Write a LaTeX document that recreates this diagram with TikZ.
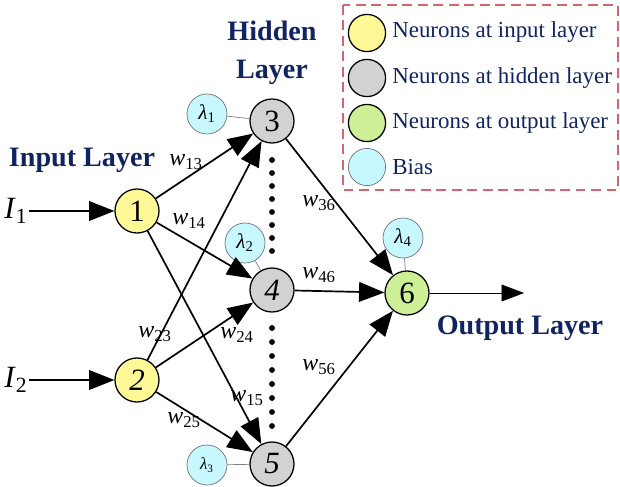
\documentclass[tikz,border=0pt]{standalone}
\usepackage{fontspec}
\setmainfont{Liberation Serif}
\usetikzlibrary{arrows.meta}
\definecolor{navy}{RGB}{16,36,96}
\definecolor{inyellow}{RGB}{255,248,150}
\definecolor{hidgray}{RGB}{210,210,210}
\definecolor{outgreen}{RGB}{205,240,150}
\definecolor{biascyan}{RGB}{200,248,255}
\definecolor{lgred}{RGB}{215,100,112}
\newcommand{\wt}[1]{\textit{w}\textsubscript{#1}}
\newcommand{\lam}[1]{\textit{λ}\textsubscript{#1}}

\begin{document}
\begin{tikzpicture}[x=0.025cm,y=-0.025cm,
  neu/.style={circle,draw,line width=0.9pt,minimum size=1.1cm,inner sep=0pt,font=\fontsize{22}{24}\selectfont},
  inn/.style={neu,fill=inyellow},
  hid/.style={neu,fill=hidgray},
  outn/.style={neu,fill=outgreen},
  bias/.style={circle,draw=black!55,line width=0.5pt,fill=biascyan,minimum size=1.0cm,inner sep=0pt,font=\fontsize{15}{17}\selectfont},
  ttl/.style={font=\fontsize{20}{27}\selectfont\bfseries,text=navy,align=center},
  wl/.style={font=\fontsize{17}{19}\selectfont,inner sep=1pt},
  arr/.style={line width=1.2pt,-{Triangle[length=18pt,width=14pt]}},
  bl/.style={draw=black!50,line width=0.5pt},
  lgc/.style={circle,draw,line width=0.9pt,minimum size=0.93cm,inner sep=0pt},
  lg/.style={font=\fontsize{16.3}{18}\selectfont,text=navy,anchor=west,inner sep=0pt}
]
\useasboundingbox (0,0) rectangle (620,487);
% neurons
\node[inn] (n1) at (137,211) {1};
\node[inn] (n2) at (137,380) {\textit{2}};
\node[hid] (n3) at (272,121) {3};
\node[hid] (n4) at (272,290) {\textit{4}};
\node[hid] (n5) at (272,464) {\textit{5}};
\node[outn] (n6) at (407,293) {6};
% biases
\node[bias] (b1) at (207,114) {\lam{1}};
\node[bias] (b2) at (245,243) {\lam{2}};
\node[bias,font=\fontsize{12}{14}\selectfont] (b3) at (207,465) {\lam{3}};
\node[bias] (b4) at (403,238) {\lam{4}};
\foreach \a/\b in {b1/n3,b2/n4,b3/n5,b4/n6} \draw[bl] (\a) -- (\b);
% inputs and output
\node[font=\fontsize{22}{24}\selectfont,inner sep=1pt] (i1) at (16,211) {\textit{I}\textsubscript{1}};
\node[font=\fontsize{22}{24}\selectfont,inner sep=1pt] (i2) at (16,380) {\textit{I}\textsubscript{2}};
\draw[arr] (i1) -- (n1);
\draw[arr] (i2) -- (n2);
\coordinate (out) at (524,293);
\draw[line width=0.5pt,-{Triangle[length=16pt,width=12pt]}] (n6) -- (out);
% weights
\foreach \a/\b in {n1/n3,n1/n4,n1/n5,n2/n3,n2/n4,n2/n5,n3/n6,n4/n6,n5/n6}
  \draw[arr] (\a) -- (\b);
\node[wl] (w13) at (186,162) {\wt{13}};
\node[wl] (w14) at (189,221) {\wt{14}};
\node[wl] (w23) at (155,334) {\wt{23}};
\node[wl] (w24) at (237,335) {\wt{24}};
\node[wl] (w15) at (247,398) {\wt{15}};
\node[wl] (w25) at (184,420) {\wt{25}};
\node[wl] (w36) at (319,203) {\wt{36}};
\node[wl] (w46) at (319,275) {\wt{46}};
\node[wl] (w56) at (319,367) {\wt{56}};
% dots
\foreach \y in {160,173,...,251} \fill (272,\y) circle (2.1pt);
\foreach \y in {328,342,...,426} \fill (272,\y) circle (2.1pt);
% layer titles
\node[ttl] (tin) at (82,160) {Input Layer};
\node[ttl] (thid) at (272,53) {Hidden\\Layer};
\node[ttl] (tout) at (520,328) {Output Layer};
% legend
\draw[lgred,line width=0.8pt,dash pattern=on 7pt off 4pt] (343,5) rectangle (618,190);
\node[lgc,fill=inyellow] (l1) at (367,33) {};
\node[lgc,fill=hidgray] (l2) at (367,78) {};
\node[lgc,fill=outgreen] (l3) at (367,123) {};
\node[lgc,fill=biascyan,draw=black!55,line width=0.5pt] (l4) at (367,167) {};
\node[lg] (t1) at (392,32) {Neurons at input layer};
\node[lg] (t2) at (392,78) {Neurons at hidden layer};
\node[lg] (t3) at (392,123) {Neurons at output layer};
\node[lg] (t4) at (392,167) {Bias};
\end{tikzpicture}
\end{document}
